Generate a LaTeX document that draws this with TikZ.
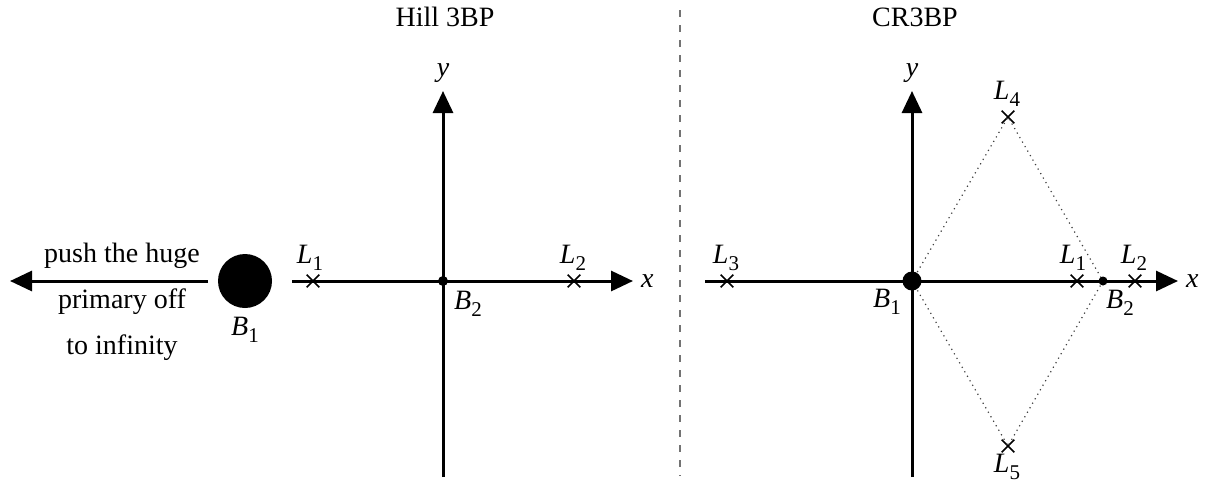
\documentclass[tikz,border=0pt]{standalone}
\usepackage{fontspec}
\setmainfont{Liberation Serif}
\usepackage{tikz}
\usetikzlibrary{arrows.meta,shapes.misc,positioning}
\newcommand{\lbl}[2]{\textit{#1}\raisebox{-0.5ex}{\fontsize{10.5}{12}\selectfont #2}}

\begin{document}
\begin{tikzpicture}[x=0.5pt,y=-0.5pt,
  every node/.style={font=\fontsize{14}{16}\selectfont},
  axis/.style={line width=1.5pt,-{Triangle[length=11pt,width=10pt]}},
  xmark/.style={cross out,draw,line width=0.8pt,minimum size=5.5pt,inner sep=0pt},
  body/.style={circle,fill,inner sep=0pt},
  lagr/.style={dotted,line width=0.6pt,black!75}]
 \useasboundingbox (0,0) rectangle (1210,484);
 % titles and divider
 \node (hilltitle) at (445,17) {Hill 3BP};
 \node (crtitle) at (915,17) {CR3BP};
 \coordinate (divtop) at (680,10); \coordinate (divbot) at (680,476);
 \draw[black!55,line width=0.6pt,dash pattern=on 3.5pt off 4pt] (divtop) -- (divbot);

 % Hill problem
 \coordinate (hxs) at (292,281); \coordinate (hxe) at (633,281);
 \coordinate (hys) at (443,477); \coordinate (hye) at (443,91);
 \draw[axis] (hxs) -- (hxe) node[right] (hx) {\textit{x}};
 \draw[axis] (hys) -- (hye) node[above] (hy) {\textit{y}};
 \node[body,minimum size=5pt] (hB2) at (443,281) {};
 \node (hB2lab) at (468,304) {\lbl{B}{2}};
 \node[xmark] (hL1) at (313,281) {};
 \node (hL1lab) at (310,258) {\lbl{L}{1}};
 \node[xmark] (hL2) at (574,281) {};
 \node (hL2lab) at (573,258) {\lbl{L}{2}};
 \node[body,minimum size=27pt] (hB1) at (245,281) {};
 \node (hB1lab) at (245,330) {\lbl{B}{1}};
 \coordinate (pushs) at (208,281); \coordinate (pushe) at (10,281);
 \draw[axis] (pushs) -- (pushe);
 \node (push1) at (122,256) {push the huge};
 \node (push2) at (122,302) {primary off};
 \node (push3) at (122,348) {to infinity};

 % restricted problem
 \node[xmark] (cL4) at (1008,117) {};
 \node[xmark] (cL5) at (1008,446) {};
 \coordinate (cO) at (912,281); \coordinate (cB2c) at (1103,281);
 \draw[lagr] (cO) -- (cL4.center) -- (cB2c) -- (cL5.center) -- cycle;
 \coordinate (cxs) at (705,281); \coordinate (cxe) at (1178,281);
 \coordinate (cys) at (912,477); \coordinate (cye) at (912,91);
 \draw[axis] (cxs) -- (cxe) node[right] (cx) {\textit{x}};
 \draw[axis] (cys) -- (cye) node[above] (cy) {\textit{y}};
 \node[body,minimum size=9.5pt] (cB1) at (cO) {};
 \node[body,minimum size=4.5pt] (cB2) at (cB2c) {};
 \node (cB1lab) at (887,302) {\lbl{B}{1}};
 \node (cB2lab) at (1120,303) {\lbl{B}{2}};
 \node[xmark] (cL1) at (1077,281) {};
 \node (cL1lab) at (1073,258) {\lbl{L}{1}};
 \node[xmark] (cL2) at (1135,281) {};
 \node (cL2lab) at (1134,258) {\lbl{L}{2}};
 \node[xmark] (cL3) at (727,281) {};
 \node (cL3lab) at (726,258) {\lbl{L}{3}};
 \node (cL4lab) at (1007,94) {\lbl{L}{4}};
 \node (cL5lab) at (1007,467) {\lbl{L}{5}};
\end{tikzpicture}
\end{document}
